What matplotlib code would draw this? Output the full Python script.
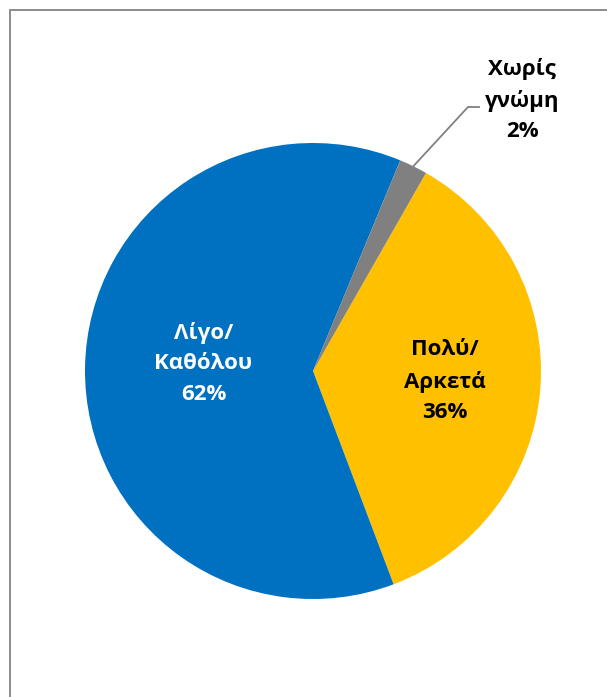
import matplotlib
matplotlib.use("Agg")
import matplotlib.pyplot as plt
from matplotlib.patches import Rectangle
import numpy as np

labels = ["Πολύ/\nΑρκετά", "Λίγο/\nΚαθόλου", "Χωρίς\nγνώμη"]
values = [36, 62, 2]
colors = ["#FFC000", "#0070C0", "#808080"]
text_colors = ["black", "white", "black"]

W, H = 607, 697
fig = plt.figure(figsize=(W / 100, H / 100), dpi=100)
ax = fig.add_axes([0, 0, 1, 1])

cx, cy, R = 313, H - 371, 228
wedges, _ = ax.pie(values, colors=colors, startangle=60.3, counterclock=False,
                   center=(cx, cy), radius=R, wedgeprops=dict(linewidth=0))
ax.set_xlim(0, W)
ax.set_ylim(0, H)
ax.set_aspect("equal")
ax.axis("off")

font = dict(family=["Open Sans", "DejaVu Sans"], fontweight="bold", fontsize=16)
inner_frac = [0.58, 0.48]
for i, w in enumerate(wedges):
    mid = np.deg2rad((w.theta1 + w.theta2) / 2)
    txt = f"{labels[i]}\n{values[i]}%"
    if i < 2:
        r = inner_frac[i] * R
        ax.text(cx + r * np.cos(mid), cy + r * np.sin(mid) + (0 if i == 0 else 6),
                txt, ha="center", va="center", color=text_colors[i],
                linespacing=1.6, **font)
    else:
        x0, y0 = cx + R * np.cos(mid), cy + R * np.sin(mid)
        xs = [x0, 468, 479]
        ys = [y0, H - 107, H - 107]
        ax.plot(xs, ys, color="#808080", lw=1.3)
        ax.text(522, H - 100, txt, ha="center", va="center",
                color=text_colors[i], linespacing=1.6, **font)

fig.add_artist(Rectangle((9.5 / W, -0.1), 1.2, (H - 9.5) / H + 0.1,
                         transform=fig.transFigure, fill=False,
                         edgecolor="#8c8c8c", lw=1.4))

fig.savefig("out.png", dpi=100, facecolor="white")
